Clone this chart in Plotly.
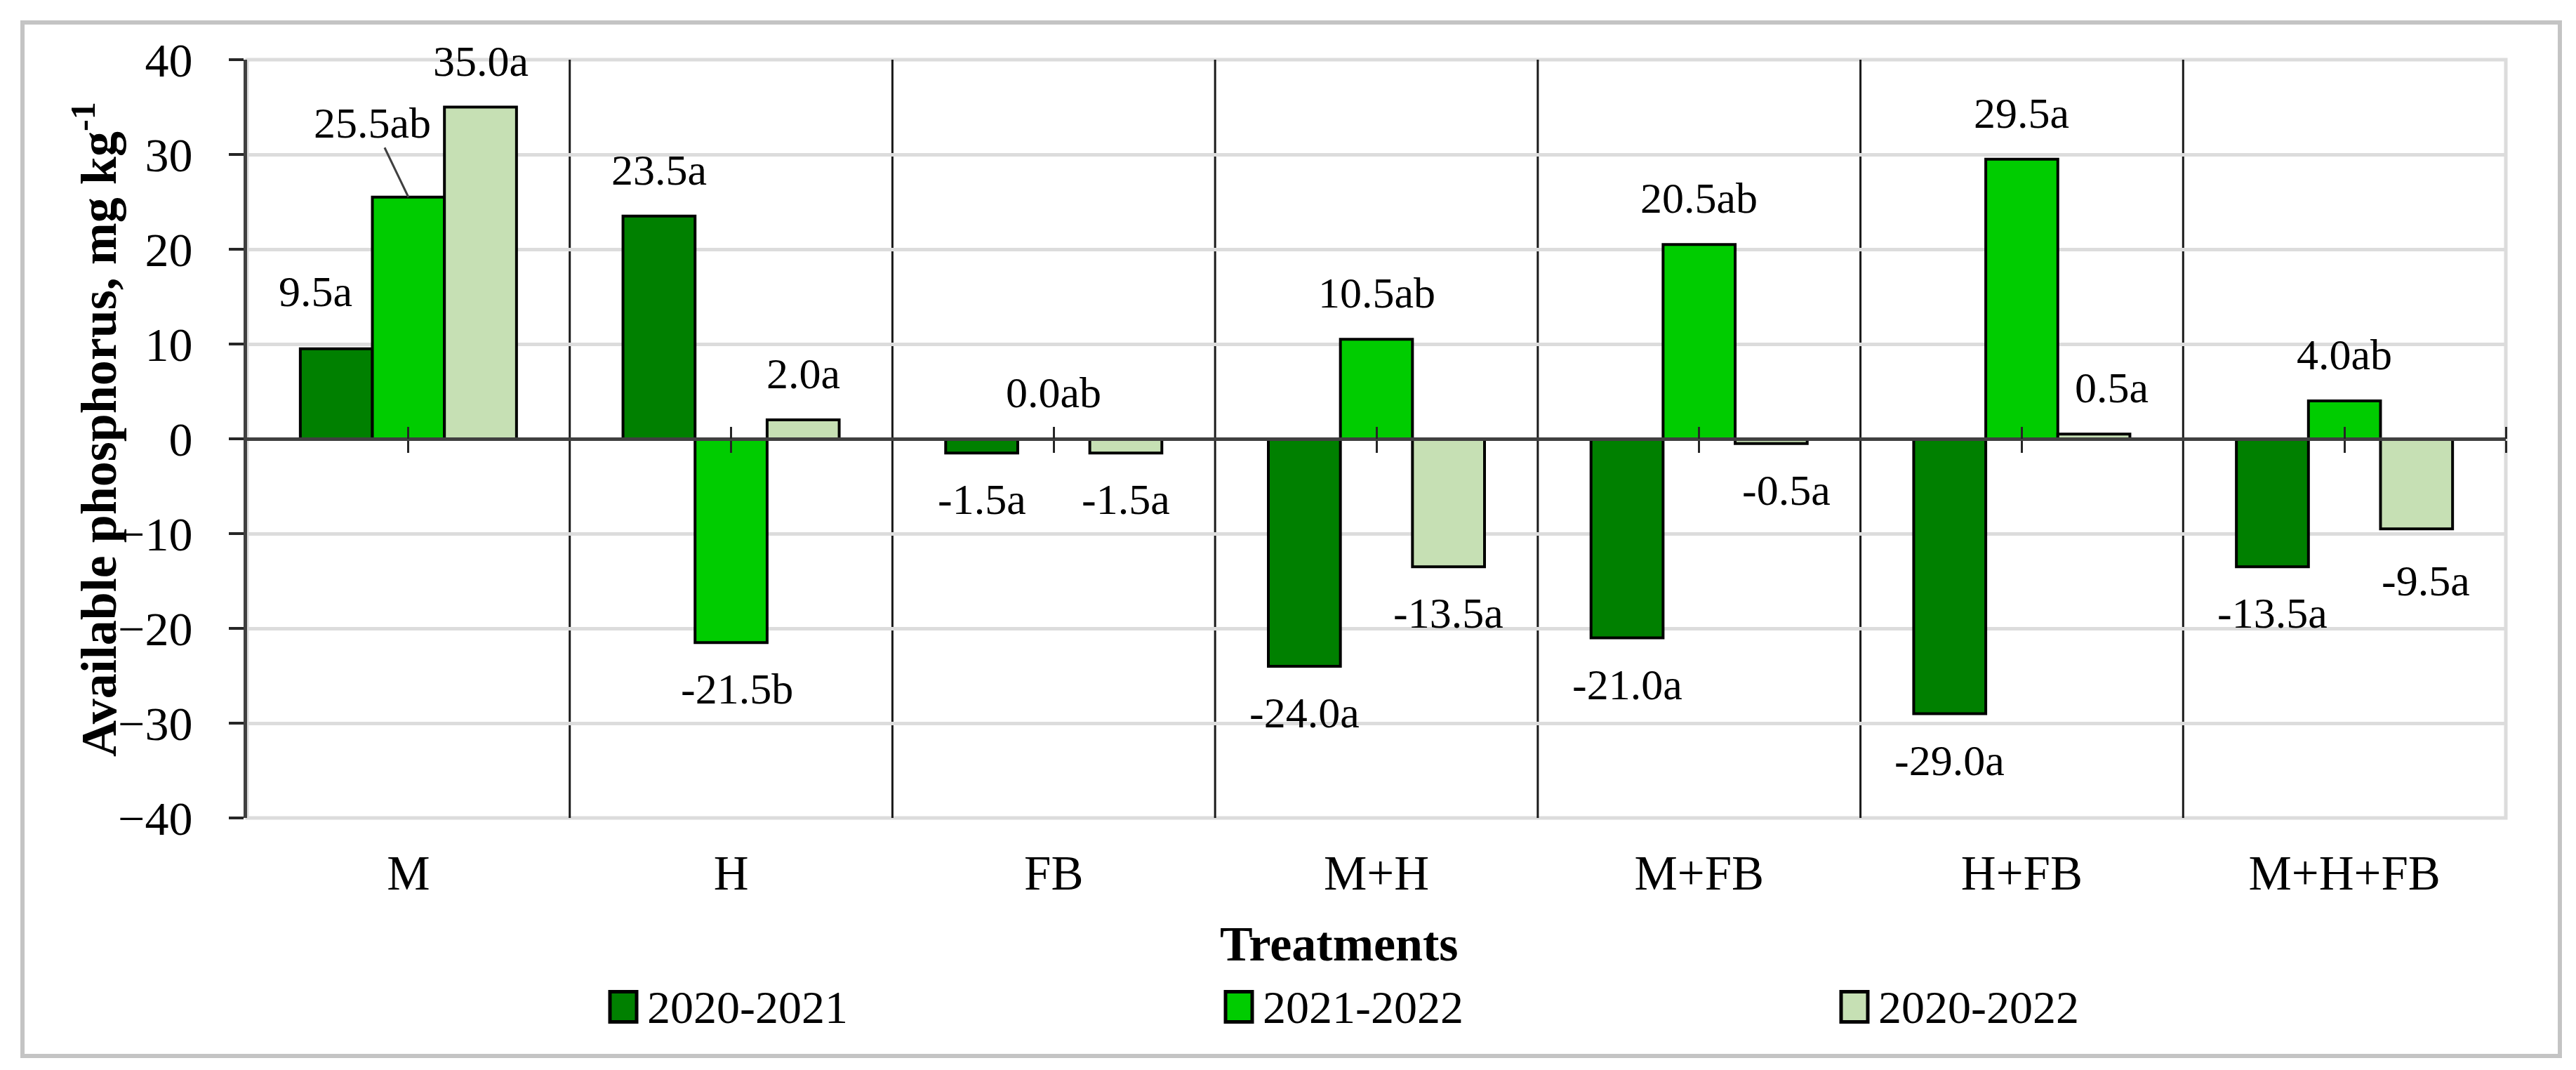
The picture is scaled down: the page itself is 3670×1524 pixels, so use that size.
import plotly.graph_objects as go

# ---------------- data ----------------
categories = ["M", "H", "FB", "M+H", "M+FB", "H+FB", "M+H+FB"]
series_names = ["2020-2021", "2021-2022", "2020-2022"]
values_2020_2021 = [9.5, 23.5, -1.5, -24.0, -21.0, -29.0, -13.5]
values_2021_2022 = [25.5, -21.5, 0.0, 10.5, 20.5, 29.5, 4.0]
values_2020_2022 = [35.0, 2.0, -1.5, -13.5, -0.5, 0.5, -9.5]
letters_2020_2021 = ["a", "a", "a", "a", "a", "a", "a"]
letters_2021_2022 = ["ab", "b", "ab", "ab", "ab", "a", "ab"]
letters_2020_2022 = ["a", "a", "a", "a", "a", "a", "a"]
y_ticks = [-40, -30, -20, -10, 0, 10, 20, 30, 40]
y_title = "<b>Available phosphorus, mg kg<sup>-1</sup></b>"
x_title = "<b>Treatments</b>"

# ---------------- style ----------------
colors = ["#008000", "#00CC00", "#C6E0B4"]
FONT = "Liberation Serif"
W, H = 3670, 1524
L, R, T, B = 344, 108, 77, 367
plot_w, plot_h = W - L - R, H - T - B
BARGAP = 0.33
n = len(categories)
bar_px = plot_w / n * (1 - BARGAP) / len(series_names)
LABEL_OFF = 66
# label nudges (series index, category index) -> (dx, dy) in px
nudges = {(0, 0): (-30, 16), (2, 4): (22, 0), (2, 5): (25, 0), (2, 6): (13, -8),
          (1, 1): (8, 0)}

# legend geometry (pixels)
LEG_X0, LEG_STEP, LEG_Y = 861, 877, 1426
SYM_W, SYM_H, SYM_GAP = 38, 43, 13


def px_x(p):
    return (p - L) / plot_w


def px_y(p):
    return (H - B - p) / plot_h


all_values = [values_2020_2021, values_2021_2022, values_2020_2022]
all_letters = [letters_2020_2021, letters_2021_2022, letters_2020_2022]

fig = go.Figure()
for s, name in enumerate(series_names):
    fig.add_trace(go.Bar(
        x=categories, y=all_values[s], name=name, showlegend=False,
        marker=dict(color=colors[s], line=dict(color="black", width=4)),
        hoverinfo="skip",
    ))

# invisible traces so the zero-axis overlays are built
fig.add_trace(go.Scatter(x=[None], y=[None], xaxis="x2", showlegend=False, hoverinfo="skip"))
fig.add_trace(go.Scatter(x=[None], y=[None], xaxis="x3", showlegend=False, hoverinfo="skip"))

annotations = []
for s in range(len(series_names)):
    for j, cat in enumerate(categories):
        v = all_values[s][j]
        txt = f"{v:.1f}{all_letters[s][j]}"
        dx, dy = nudges.get((s, j), (0, 0))
        sign = 1 if v >= 0 else -1
        base_shift = (s - 1) * bar_px
        if s == 1 and j == 0:
            annotations.append(dict(
                x=cat, y=v, xref="x", yref="y", text=txt,
                xshift=base_shift, showarrow=True, arrowhead=0, arrowwidth=3,
                arrowcolor="#404040", ax=-51, ay=-106, standoff=0,
                font=dict(family=FONT, size=62, color="black"),
            ))
        else:
            annotations.append(dict(
                x=cat, y=v, xref="x", yref="y", text=txt, showarrow=False,
                xshift=base_shift + dx, yshift=sign * LABEL_OFF + dy,
                yanchor="middle", xanchor="center",
                font=dict(family=FONT, size=62, color="black"),
            ))

# axis titles
annotations.append(dict(x=px_x(1900), y=px_y(1336), xref="paper", yref="paper",
                        text=x_title, showarrow=False, xanchor="center", yanchor="middle",
                        font=dict(family=FONT, size=70, color="black")))
annotations.append(dict(x=px_x(127), y=px_y(604), xref="paper", yref="paper",
                        text=y_title, showarrow=False, textangle=-90,
                        xanchor="center", yanchor="middle",
                        font=dict(family=FONT, size=72, color="black")))

shapes = []
# outer frame
shapes.append(dict(type="rect", xref="paper", yref="paper",
                   x0=px_x(24), x1=px_x(3639), y0=px_y(1496), y1=px_y(24),
                   line=dict(color="#C4C4C4", width=6), layer="below"))
# plot area border
shapes.append(dict(type="rect", xref="paper", yref="paper", x0=0, x1=1, y0=0, y1=1,
                   line=dict(color="#DCDCDC", width=5), layer="below"))
# category separators
for i in range(n - 1):
    shapes.append(dict(type="line", xref="x", yref="paper", x0=i + 0.5, x1=i + 0.5,
                       y0=0, y1=1, line=dict(color="#1A1A1A", width=3), layer="below"))

# legend
for s, name in enumerate(series_names):
    x0 = LEG_X0 + s * LEG_STEP
    shapes.append(dict(type="rect", xref="paper", yref="paper",
                       x0=px_x(x0), x1=px_x(x0 + SYM_W),
                       y0=px_y(LEG_Y + SYM_H / 2), y1=px_y(LEG_Y - SYM_H / 2),
                       fillcolor=colors[s], line=dict(color="black", width=5)))
    annotations.append(dict(x=px_x(x0 + SYM_W + SYM_GAP), y=px_y(LEG_Y),
                            xref="paper", yref="paper", text=name, showarrow=False,
                            xanchor="left", yanchor="middle",
                            font=dict(family=FONT, size=66, color="black")))

zero_pos = (0 - y_ticks[0]) / (y_ticks[-1] - y_ticks[0])
tick_positions = list(range(n)) + [n - 0.5]

fig.update_layout(
    width=W, height=H,
    margin=dict(l=L, r=R, t=T, b=B, autoexpand=False),
    paper_bgcolor="white", plot_bgcolor="white",
    barmode="group", bargap=BARGAP, bargroupgap=0,
    font=dict(family=FONT, color="black"),
    showlegend=False,
    xaxis=dict(type="category", categoryorder="array", categoryarray=categories,
               range=[-0.5, n - 0.5], showline=False, showgrid=False, ticks="",
               zeroline=False, tickfont=dict(family=FONT, size=69, color="black"),
               ticklabelstandoff=32),
    xaxis2=dict(overlaying="x", anchor="free", position=zero_pos, type="linear",
                range=[-0.5, n - 0.5], tickvals=tick_positions, showticklabels=False,
                ticks="outside", ticklen=17, tickwidth=3, tickcolor="#262626",
                showline=True, linecolor="#404040", linewidth=5,
                showgrid=False, zeroline=False),
    xaxis3=dict(overlaying="x", anchor="free", position=zero_pos, side="top",
                type="linear", range=[-0.5, n - 0.5], tickvals=tick_positions,
                showticklabels=False, ticks="outside", ticklen=17, tickwidth=3,
                tickcolor="#262626", showline=False, showgrid=False, zeroline=False),
    yaxis=dict(range=[y_ticks[0], y_ticks[-1]], tickvals=y_ticks,
               showgrid=True, gridcolor="#DCDCDC", gridwidth=5, zeroline=False,
               showline=True, linecolor="#404040", linewidth=5,
               ticks="outside", ticklen=21, tickwidth=4, tickcolor="#262626",
               ticklabelstandoff=38,
               tickfont=dict(family=FONT, size=68, color="black")),
    annotations=annotations,
    shapes=shapes,
)

fig.write_html("out.html")
